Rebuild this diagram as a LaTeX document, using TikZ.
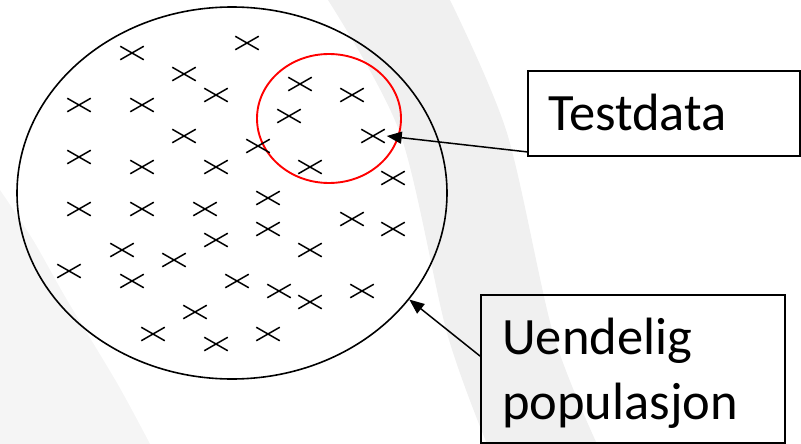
\documentclass[tikz,border=0pt]{standalone}
\usepackage{fontspec}
\setmainfont{Carlito}
\usetikzlibrary{shapes.geometric,shapes.misc,arrows.meta,calc}
\begin{document}
\begin{tikzpicture}[x=1pt,y=-1pt,
  xm/.style={cross out,draw,line width=1.5pt,inner sep=0pt,minimum width=22pt,minimum height=12pt},
  popring/.style={ellipse,draw,line width=1.6pt,inner sep=0pt,minimum width=430pt,minimum height=372pt},
  testring/.style={ellipse,draw=red,line width=1.9pt,inner sep=0pt,minimum width=144pt,minimum height=129pt},
  labelbox/.style={draw,line width=1.8pt,inner sep=0pt},
  labeltext/.style={anchor=base west,inner sep=0pt,font=\fontsize{52.5}{65}\selectfont},
  pointer/.style={line width=1.5pt,-{Triangle[length=15pt,width=12pt]}},
  band/.style={fill=black!6,draw=none},
  lightband/.style={fill=black!4,draw=none}]
\useasboundingbox (0,0) rectangle (801,444);
% faint background bands
\fill[band] plot[smooth] coordinates {(328,0) (400,133) (447,333) (487,444)}
  -- plot[smooth] coordinates {(597,444) (553,333) (507,133) (450,0)} -- cycle;
\fill[lightband] plot[smooth] coordinates {(0,190) (33,240) (67,300) (117,383) (150,444)} -- (0,444) -- cycle;
% population and test set
\node[popring] (pop) at (232,193) {};
\node[testring] (test) at (329,118.5) {};
% data points
\foreach \px/\py [count=\i] in {
  132/53, 247/43, 184/74, 216/95, 300/84, 352/95, 79/105, 142/105, 289/116, 373/136,
  184/136, 258/146, 79/157, 142/167, 216/167, 310/167, 393/178, 268/198, 79/209, 142/209,
  205/209, 352/219, 268/229, 393/229, 216/240, 122/250, 174/260, 310/250, 69/271, 132/281,
  237/281, 279/291, 310/302, 362/291, 195/312, 153/334, 216/344, 268/334}
  \node[xm] (m\i) at (\px,\py) {};
% label boxes
\node[labelbox,minimum width=272pt,minimum height=85pt] (tdbox) at (664,113.5) {};
\node[labeltext] (tdtext) at (548,130) {Testdata};
\node[labelbox,minimum width=304pt,minimum height=148pt] (popbox) at (633,369) {};
\node[labeltext] (poptext1) at (502,354) {Uendelig};
\node[labeltext] (poptext2) at (502,419) {populasjon};
% pointers
\draw[pointer] ($(tdbox.south west)+(0,-5)$) -- ($(m10.east)+(2,0)$);
\draw[pointer] ($(popbox.north west)+(0,62)$) -- (pop.-31.7);
\end{tikzpicture}
\end{document}
